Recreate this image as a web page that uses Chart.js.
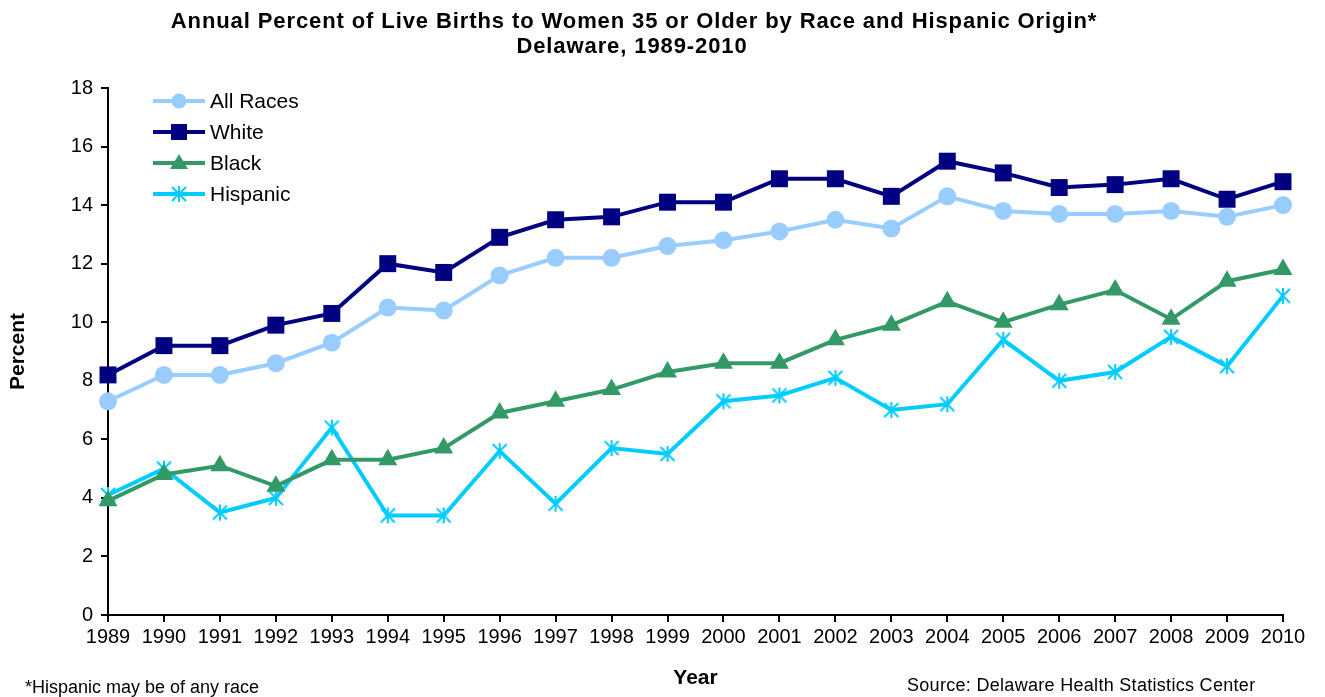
<!DOCTYPE html>
<html>
<head>
<meta charset="utf-8">
<script src="https://cdn.jsdelivr.net/npm/chart.js@4.4.1/dist/chart.umd.min.js"></script>
<style>
  html, body { margin: 0; padding: 0; background: #fff; }
  #wrap { width: 1325px; height: 697px; position: relative; }
</style>
</head>
<body>
<div id="wrap"><canvas id="chart" width="1325" height="697"></canvas></div>
<script>
// Datos
const years = ['1989', '1990', '1991', '1992', '1993', '1994', '1995', '1996', '1997', '1998', '1999',
    '2000', '2001', '2002', '2003', '2004', '2005', '2006', '2007', '2008', '2009', '2010'];
const allRaces = [7.3, 8.2, 8.2, 8.6, 9.3, 10.5, 10.4, 11.6, 12.2, 12.2, 12.6,
    12.8, 13.1, 13.5, 13.2, 14.3, 13.8, 13.7, 13.7, 13.8, 13.6, 14.0];
const white = [8.2, 9.2, 9.2, 9.9, 10.3, 12.0, 11.7, 12.9, 13.5, 13.6, 14.1,
    14.1, 14.9, 14.9, 14.3, 15.5, 15.1, 14.6, 14.7, 14.9, 14.2, 14.8];
const black = [3.9, 4.8, 5.1, 4.4, 5.3, 5.3, 5.7, 6.9, 7.3, 7.7, 8.3,
    8.6, 8.6, 9.4, 9.9, 10.7, 10.0, 10.6, 11.1, 10.1, 11.4, 11.8];
const hispanic = [4.1, 5.0, 3.5, 4.0, 6.4, 3.4, 3.4, 5.6, 3.8, 5.7, 5.5,
    7.3, 7.5, 8.1, 7.0, 7.2, 9.4, 8.0, 8.3, 9.5, 8.5, 10.9];
const yTicks = [0, 2, 4, 6, 8, 10, 12, 14, 16, 18];

const titleLines = ['Annual Percent of Live Births to Women 35 or Older by Race and Hispanic Origin*',
    'Delaware, 1989-2010'];

const FONT = "'Liberation Sans', Arial, sans-serif";
const colors = {
    all: '#99CCFF',
    white: '#000080',
    black: '#339966',
    hisp: '#00CCFF'
};

// Marcador tipo asterisco (como Excel)
function makeStar(size, color) {
    const c = document.createElement('canvas');
    c.width = size;
    c.height = size;
    const g = c.getContext('2d');
    g.strokeStyle = color;
    g.lineWidth = 2;
    const m = size / 2, d = size / 2 - 2;
    g.beginPath();
    g.moveTo(m - d, m - d); g.lineTo(m + d, m + d);
    g.moveTo(m + d, m - d); g.lineTo(m - d, m + d);
    g.moveTo(m, 1); g.lineTo(m, size - 1);
    g.stroke();
    return c;
}
const starImg = makeStar(18, colors.hisp);

const legendItems = [
    { label: 'All Races', color: colors.all, style: 'circle' },
    { label: 'White', color: colors.white, style: 'rect' },
    { label: 'Black', color: colors.black, style: 'triangle' },
    { label: 'Hispanic', color: colors.hisp, style: 'star' }
];

function drawMarker(ctx, style, color, x, y) {
    ctx.save();
    ctx.fillStyle = color;
    ctx.beginPath();
    if (style === 'circle') {
        ctx.arc(x, y, 7.5, 0, Math.PI * 2);
        ctx.fill();
    } else if (style === 'rect') {
        ctx.fillRect(x - 8, y - 8, 16, 16);
    } else if (style === 'triangle') {
        ctx.moveTo(x, y - 9);
        ctx.lineTo(x + 9, y + 6);
        ctx.lineTo(x - 9, y + 6);
        ctx.closePath();
        ctx.fill();
    } else {
        ctx.drawImage(starImg, x - 9, y - 9);
    }
    ctx.restore();
}

const extrasPlugin = {
    id: 'extras',
    afterDraw(chart) {
        const ctx = chart.ctx;
        ctx.save();
        // título
        ctx.fillStyle = '#000';
        ctx.textAlign = 'center';
        ctx.textBaseline = 'middle';
        ctx.font = 'bold 22px ' + FONT;
        ctx.letterSpacing = '0.9px';
        ctx.fillText(titleLines[0], 634, 22);
        ctx.fillText(titleLines[1], 632, 47);
        ctx.letterSpacing = '0px';
        // leyenda
        legendItems.forEach(function(item, i) {
            const y = 101 + i * 31;
            ctx.strokeStyle = item.color;
            ctx.lineWidth = 4;
            ctx.beginPath();
            ctx.moveTo(153, y);
            ctx.lineTo(205, y);
            ctx.stroke();
            drawMarker(ctx, item.style, item.color, 179, y);
            ctx.fillStyle = '#000';
            ctx.font = '21px ' + FONT;
            ctx.textBaseline = 'middle';
            ctx.textAlign = 'left';
            ctx.fillText(item.label, 210, y + 1);
        });
        // notas al pie
        ctx.font = '18px ' + FONT;
        ctx.textBaseline = 'middle';
        ctx.textAlign = 'left';
        ctx.fillText('*Hispanic may be of any race', 25, 688);
        ctx.letterSpacing = '0.3px';
        ctx.fillText('Source: Delaware Health Statistics Center', 907, 686);
        ctx.restore();
    }
};

const ctx = document.getElementById('chart').getContext('2d');
new Chart(ctx, {
    type: 'line',
    data: {
        labels: years,
        datasets: [
            {
                label: 'All Races', data: allRaces, borderColor: colors.all, backgroundColor: colors.all,
                borderWidth: 4, pointStyle: 'circle', pointRadius: 9, pointBorderWidth: 0
            },
            {
                label: 'White', data: white, borderColor: colors.white, backgroundColor: colors.white,
                borderWidth: 4, pointStyle: 'rect', pointRadius: 12, pointBorderWidth: 0
            },
            {
                label: 'Black', data: black, borderColor: colors.black, backgroundColor: colors.black,
                borderWidth: 4, pointStyle: 'triangle', pointRadius: 11, pointBorderWidth: 0
            },
            {
                label: 'Hispanic', data: hispanic, borderColor: colors.hisp, backgroundColor: colors.hisp,
                borderWidth: 4, pointStyle: starImg, pointRadius: 9
            }
        ]
    },
    options: {
        responsive: false,
        animation: false,
        clip: false,
        layout: { padding: { left: 0, right: 42, top: 88, bottom: 0 } },
        elements: { line: { tension: 0 } },
        plugins: {
            legend: { display: false },
            tooltip: { enabled: false },
            title: { display: false }
        },
        scales: {
            x: {
                type: 'category',
                offset: false,
                grid: { display: true, drawOnChartArea: false, color: '#000', tickLength: 7, lineWidth: 2 },
                border: { display: true, color: '#000', width: 2 },
                ticks: { color: '#000', font: { family: FONT, size: 20 }, padding: 3, maxRotation: 0, autoSkip: false },
                title: {
                    display: true, text: 'Year', color: '#000',
                    font: { family: FONT, size: 21, weight: 'bold' },
                    padding: { top: 0, bottom: 6 }
                },
                afterFit(scale) { scale.height = 82; }
            },
            y: {
                min: 0,
                max: 18,
                afterBuildTicks(scale) { scale.ticks = yTicks.map(function(v) { return { value: v }; }); },
                grid: { display: true, drawOnChartArea: false, color: '#000', tickLength: 7, lineWidth: 2 },
                border: { display: true, color: '#000', width: 2 },
                ticks: { color: '#000', font: { family: FONT, size: 20 }, padding: 8 },
                title: {
                    display: true, text: 'Percent', color: '#000',
                    font: { family: FONT, size: 21, weight: 'bold' },
                    padding: { top: 6, bottom: 0 }
                },
                afterFit(scale) { scale.width = 108; }
            }
        }
    },
    plugins: [extrasPlugin]
});
</script>
</body>
</html>
